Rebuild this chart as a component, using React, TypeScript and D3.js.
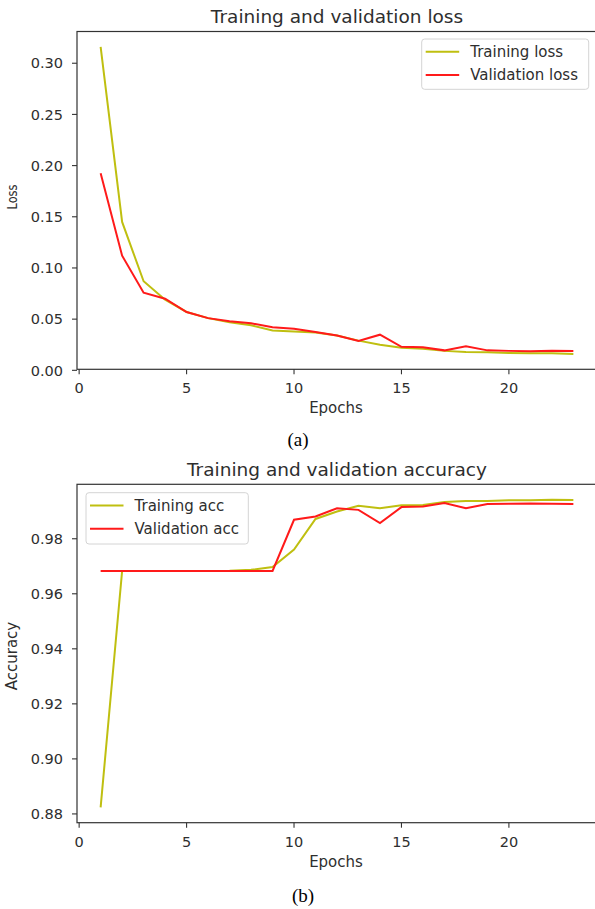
import React from 'react';
import * as d3 from 'd3';

const epochs = [1, 2, 3, 4, 5, 6, 7, 8, 9, 10, 11, 12, 13, 14, 15, 16, 17, 18, 19, 20, 21, 22, 23];

const lossTrain = [0.316, 0.145, 0.087, 0.069, 0.057, 0.051, 0.047, 0.044, 0.039, 0.038, 0.037, 0.034, 0.029, 0.025, 0.022, 0.021, 0.019, 0.018, 0.0176, 0.017, 0.0166, 0.0166, 0.016];
const lossVal = [0.1925, 0.112, 0.0758, 0.070, 0.057, 0.051, 0.048, 0.046, 0.042, 0.0405, 0.0374, 0.034, 0.0286, 0.0348, 0.023, 0.0225, 0.0195, 0.0234, 0.0195, 0.019, 0.0186, 0.019, 0.0188];

const accTrain = [0.8824, 0.9683, 0.9683, 0.9683, 0.9683, 0.9683, 0.9684, 0.9687, 0.9697, 0.9761, 0.9872, 0.9899, 0.992, 0.9911, 0.9922, 0.9923, 0.9934, 0.9937, 0.9937, 0.994, 0.994, 0.9942, 0.9941];
const accVal = [0.9683, 0.9683, 0.9683, 0.9683, 0.9683, 0.9683, 0.9683, 0.9683, 0.9683, 0.9869, 0.9881, 0.9911, 0.9905, 0.9857, 0.9915, 0.9917, 0.993, 0.9911, 0.9926, 0.9927, 0.9928, 0.9927, 0.9926];

const xTicks = [0, 5, 10, 15, 20];
const lossTicks = [0.0, 0.05, 0.1, 0.15, 0.2, 0.25, 0.3];
const accTicks = [0.88, 0.9, 0.92, 0.94, 0.96, 0.98];

const lossLegend = ['Training loss', 'Validation loss'];
const accLegend = ['Training acc', 'Validation acc'];

const TRAIN_COLOR = '#bfbf10';
const VAL_COLOR = '#ff1a1a';
const TEXT = '#2e2e2e';
const FONT = 'DejaVu Sans, sans-serif';

type PanelProps = {
  top: number;
  bottom: number;
  train: number[];
  val: number[];
  yTicks: number[];
  yFmt: (v: number) => string;
  title: string;
  titleY: number;
  yLabel: string;
  yLabelSize: number;
  yLabelLength?: number;
  yLabelY: number;
  xLabelY: number;
  legend: string[];
  legendBox: { x: number; y: number; w: number; h: number };
};

function Panel(p: PanelProps) {
  const left = 77;
  const right = 597;
  const x = d3.scaleLinear().domain([-0.1, 24.1]).range([left, right]);
  const all = [...p.train, ...p.val];
  const mn = d3.min(all) as number;
  const mx = d3.max(all) as number;
  const pad = (mx - mn) * 0.05;
  const y = d3.scaleLinear().domain([mn - pad, mx + pad]).range([p.bottom, p.top]);
  const line = d3
    .line<number>()
    .x((_, i) => x(epochs[i]))
    .y((d) => y(d));
  const lb = p.legendBox;
  const labelExtra = p.yLabelLength
    ? { textLength: p.yLabelLength, lengthAdjust: 'spacingAndGlyphs' }
    : {};
  return (
    <g>
      <text x={337} y={p.titleY} textAnchor="middle" fontSize={18.5} fill={TEXT} fontFamily={FONT}>
        {p.title}
      </text>
      <path d={line(p.train) || ''} fill="none" stroke={TRAIN_COLOR} strokeWidth={2} />
      <path d={line(p.val) || ''} fill="none" stroke={VAL_COLOR} strokeWidth={2} />
      <rect x={left} y={p.top} width={right - left} height={p.bottom - p.top} fill="none" stroke="#333" strokeWidth={1.2} />
      {xTicks.map((t) => (
        <g key={'x' + t}>
          <line x1={x(t)} x2={x(t)} y1={p.bottom} y2={p.bottom + 5} stroke="#333" strokeWidth={1.1} />
          <text x={x(t)} y={p.bottom + 24} textAnchor="middle" fontSize={14.5} fill={TEXT} fontFamily={FONT}>
            {t}
          </text>
        </g>
      ))}
      {p.yTicks.map((t) => (
        <g key={'y' + t}>
          <line x1={left - 5} x2={left} y1={y(t)} y2={y(t)} stroke="#333" strokeWidth={1.1} />
          <text x={left - 14} y={y(t)} dy="0.36em" textAnchor="end" fontSize={14.5} fill={TEXT} fontFamily={FONT}>
            {p.yFmt(t)}
          </text>
        </g>
      ))}
      <text x={336} y={p.xLabelY} textAnchor="middle" fontSize={15} fill={TEXT} fontFamily={FONT}>
        Epochs
      </text>
      <text
        transform={`translate(17,${p.yLabelY}) rotate(-90)`}
        textAnchor="middle"
        fontSize={p.yLabelSize}
        fill={TEXT}
        fontFamily={FONT}
        {...labelExtra}
      >
        {p.yLabel}
      </text>
      <rect x={lb.x} y={lb.y} width={lb.w} height={lb.h} rx={3} fill="#fff" fillOpacity={0.85} stroke="#d4d4d4" strokeWidth={1} />
      {p.legend.map((name, i) => {
        const ly = lb.y + 12.7 + i * 23.3;
        return (
          <g key={name}>
            <line x1={lb.x + 4} x2={lb.x + 37.5} y1={ly} y2={ly} stroke={i === 0 ? TRAIN_COLOR : VAL_COLOR} strokeWidth={2} />
            <text x={lb.x + 48.5} y={ly} dy="0.36em" fontSize={15} fill={TEXT} fontFamily={FONT}>
              {name}
            </text>
          </g>
        );
      })}
    </g>
  );
}

export default function App() {
  return (
    <svg
      width={595}
      height={909}
      viewBox="0 0 595 909"
      style={{ position: 'absolute', left: 0, top: 0, background: '#fff' }}
    >
      <rect x={0} y={0} width={595} height={909} fill="#fff" />
      <Panel
        top={31.5}
        bottom={369.3}
        train={lossTrain}
        val={lossVal}
        yTicks={lossTicks}
        yFmt={(v) => v.toFixed(2)}
        title="Training and validation loss"
        titleY={22.7}
        yLabel="Loss"
        yLabelSize={14}
        yLabelLength={25}
        yLabelY={197}
        xLabelY={413}
        legend={lossLegend}
        legendBox={{ x: 421.7, y: 39, w: 167, h: 50.3 }}
      />
      <text x={298} y={446} textAnchor="middle" fontSize={19} fill="#000" fontFamily="Liberation Serif, serif">
        (a)
      </text>
      <Panel
        top={484.3}
        bottom={822.7}
        train={accTrain}
        val={accVal}
        yTicks={accTicks}
        yFmt={(v) => v.toFixed(2)}
        title="Training and validation accuracy"
        titleY={476}
        yLabel="Accuracy"
        yLabelSize={15}
        yLabelY={656}
        xLabelY={867}
        legend={accLegend}
        legendBox={{ x: 86, y: 492.7, w: 162.3, h: 51.3 }}
      />
      <text x={303} y={902} textAnchor="middle" fontSize={19} fill="#000" fontFamily="Liberation Serif, serif">
        (b)
      </text>
    </svg>
  );
}
